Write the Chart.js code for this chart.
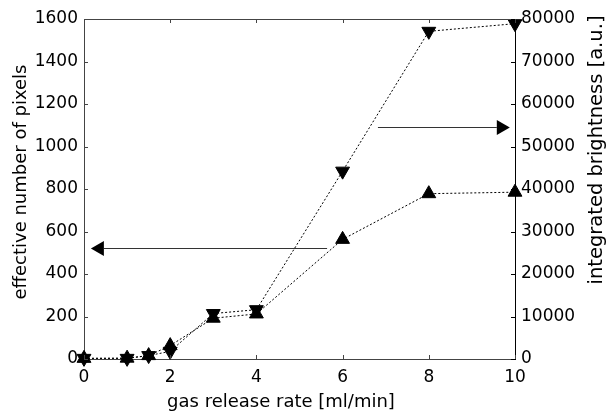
<!DOCTYPE html>
<html>
<head>
<meta charset="utf-8">
<script src="https://cdn.jsdelivr.net/npm/chart.js@4.4.0/dist/chart.umd.min.js"></script>
<style>
html,body{margin:0;padding:0;background:#fff;}
#wrap{width:607px;height:414px;}
</style>
</head>
<body>
<div id="wrap"><canvas id="c" width="607" height="414"></canvas></div>
<script>
// ---- data ----
const gasRate = [0, 1, 1.5, 2, 3, 4, 6, 8, 10];
const effectivePixels = [3, 4, 16, 63, 192, 212, 563, 778, 785];
const integratedBrightness = [150, 150, 800, 1800, 10700, 11600, 44200, 77100, 78900];
const xTicks = [0, 2, 4, 6, 8, 10];
const yLeftTicks = [0, 200, 400, 600, 800, 1000, 1200, 1400, 1600];
const yRightTicks = [0, 10000, 20000, 30000, 40000, 50000, 60000, 70000, 80000];
const xTitle = 'gas release rate [ml/min]';
const yLeftTitle = 'effective number of pixels';
const yRightTitle = 'integrated brightness [a.u.]';
// arrows: [x tail, x tip], y value
const arrowLeftX = [5.64, 0.16];
const arrowLeftY = 522;
const arrowRightX = [6.82, 9.88];
const arrowRightY = 54660;

const FONT = 'DejaVu Sans';

const framePlugin = {
  id: 'frame',
  afterDatasetsDraw(chart) {
    const ctx = chart.ctx;
    const a = chart.chartArea;
    const xs = chart.scales.x, yl = chart.scales.y, yr = chart.scales.y2;
    ctx.save();
    ctx.lineWidth = 1;
    ctx.strokeStyle = '#444';
    ctx.beginPath();
    ctx.moveTo(a.left, a.top + 0.5); ctx.lineTo(a.right, a.top + 0.5);
    ctx.stroke();
    const tl = 4;
    xTicks.forEach(v => {
      const px = Math.round(xs.getPixelForValue(v)) + 0.5;
      ctx.beginPath();
      ctx.moveTo(px, a.bottom); ctx.lineTo(px, a.bottom - tl);
      ctx.moveTo(px, a.top); ctx.lineTo(px, a.top + tl);
      ctx.stroke();
    });
    yLeftTicks.forEach(v => {
      const py = Math.round(yl.getPixelForValue(v)) + 0.5;
      ctx.beginPath();
      ctx.moveTo(a.left, py); ctx.lineTo(a.left + tl, py);
      ctx.stroke();
    });
    ctx.strokeStyle = '#000';
    yRightTicks.forEach(v => {
      const py = Math.round(yr.getPixelForValue(v)) + 0.5;
      ctx.beginPath();
      ctx.moveTo(a.right, py); ctx.lineTo(a.right - tl, py);
      ctx.stroke();
    });
    function arrow(x0, x1, y, scaleY) {
      const p0 = xs.getPixelForValue(x0), p1 = xs.getPixelForValue(x1);
      const py = Math.round(scaleY.getPixelForValue(y)) + 0.5;
      const dir = Math.sign(p1 - p0);
      const hl = 13, hw = 7.5;
      ctx.strokeStyle = '#333';
      ctx.lineWidth = 1;
      ctx.beginPath();
      ctx.moveTo(p0, py); ctx.lineTo(p1 - dir * hl, py);
      ctx.stroke();
      ctx.fillStyle = '#000';
      ctx.beginPath();
      ctx.moveTo(p1, py);
      ctx.lineTo(p1 - dir * hl, py - hw);
      ctx.lineTo(p1 - dir * hl, py + hw);
      ctx.closePath();
      ctx.fill();
    }
    arrow(arrowLeftX[0], arrowLeftX[1], arrowLeftY, yl);
    arrow(arrowRightX[0], arrowRightX[1], arrowRightY, yr);

    // axis titles
    ctx.fillStyle = '#000';
    ctx.textAlign = 'center';
    ctx.textBaseline = 'middle';
    ctx.font = '18px "' + FONT + '"';
    ctx.fillText(xTitle, 281, 402);
    ctx.save();
    ctx.translate(21, 182);
    ctx.rotate(-Math.PI / 2);
    ctx.font = '18px "' + FONT + '"';
    ctx.fillText(yLeftTitle, 0, 0);
    ctx.restore();
    ctx.save();
    ctx.translate(597, 150);
    ctx.rotate(-Math.PI / 2);
    ctx.font = '19.5px "' + FONT + '"';
    ctx.fillText(yRightTitle, 0, 0);
    ctx.restore();
    ctx.restore();
  }
};

const tickFmt = v => String(v);

new Chart(document.getElementById('c'), {
  type: 'line',
  data: {
    datasets: [
      {
        label: yLeftTitle,
        data: gasRate.map((x, i) => ({x: x, y: effectivePixels[i]})),
        yAxisID: 'y',
        borderColor: '#000',
        borderWidth: 1,
        borderDash: [2, 2],
        pointStyle: 'triangle',
        pointRotation: 0,
        pointRadius: 8,
        pointBorderWidth: 1,
        pointBackgroundColor: '#000',
        pointBorderColor: '#000',
        clip: false,
        tension: 0
      },
      {
        label: yRightTitle,
        data: gasRate.map((x, i) => ({x: x, y: integratedBrightness[i]})),
        yAxisID: 'y2',
        borderColor: '#000',
        borderWidth: 1,
        borderDash: [2, 2],
        pointStyle: 'triangle',
        pointRotation: 180,
        pointRadius: 8,
        pointBorderWidth: 1,
        pointBackgroundColor: '#000',
        pointBorderColor: '#000',
        clip: false,
        tension: 0
      }
    ]
  },
  options: {
    responsive: false,
    animation: false,
    events: [],
    layout: { padding: { top: 19, left: 0, right: 0, bottom: 0 } },
    plugins: { legend: { display: false }, tooltip: { enabled: false } },
    scales: {
      x: {
        type: 'linear',
        min: 0, max: 10,
        afterBuildTicks(s) { s.ticks = xTicks.map(v => ({value: v})); },
        afterFit(s) { s.height = 55; },
        grid: { display: false, drawTicks: false },
        border: { display: true, color: '#444', width: 1 },
        ticks: { color: '#000', font: { family: FONT, size: 17 }, padding: 8, maxRotation: 0, callback: tickFmt }
      },
      y: {
        type: 'linear', position: 'left',
        min: 0, max: 1600,
        afterBuildTicks(s) { s.ticks = yLeftTicks.map(v => ({value: v})); },
        afterFit(s) { s.width = 84; },
        grid: { display: false, drawTicks: false },
        border: { display: true, color: '#444', width: 1 },
        ticks: { color: '#000', font: { family: FONT, size: 17 }, padding: 6, callback: tickFmt }
      },
      y2: {
        type: 'linear', position: 'right',
        min: 0, max: 80000,
        afterBuildTicks(s) { s.ticks = yRightTicks.map(v => ({value: v})); },
        afterFit(s) { s.width = 92; },
        grid: { display: false, drawTicks: false },
        border: { display: true, color: '#000', width: 1 },
        ticks: { color: '#000', font: { family: FONT, size: 17 }, padding: 6, callback: tickFmt }
      }
    }
  },
  plugins: [framePlugin]
});
</script>
</body>
</html>
